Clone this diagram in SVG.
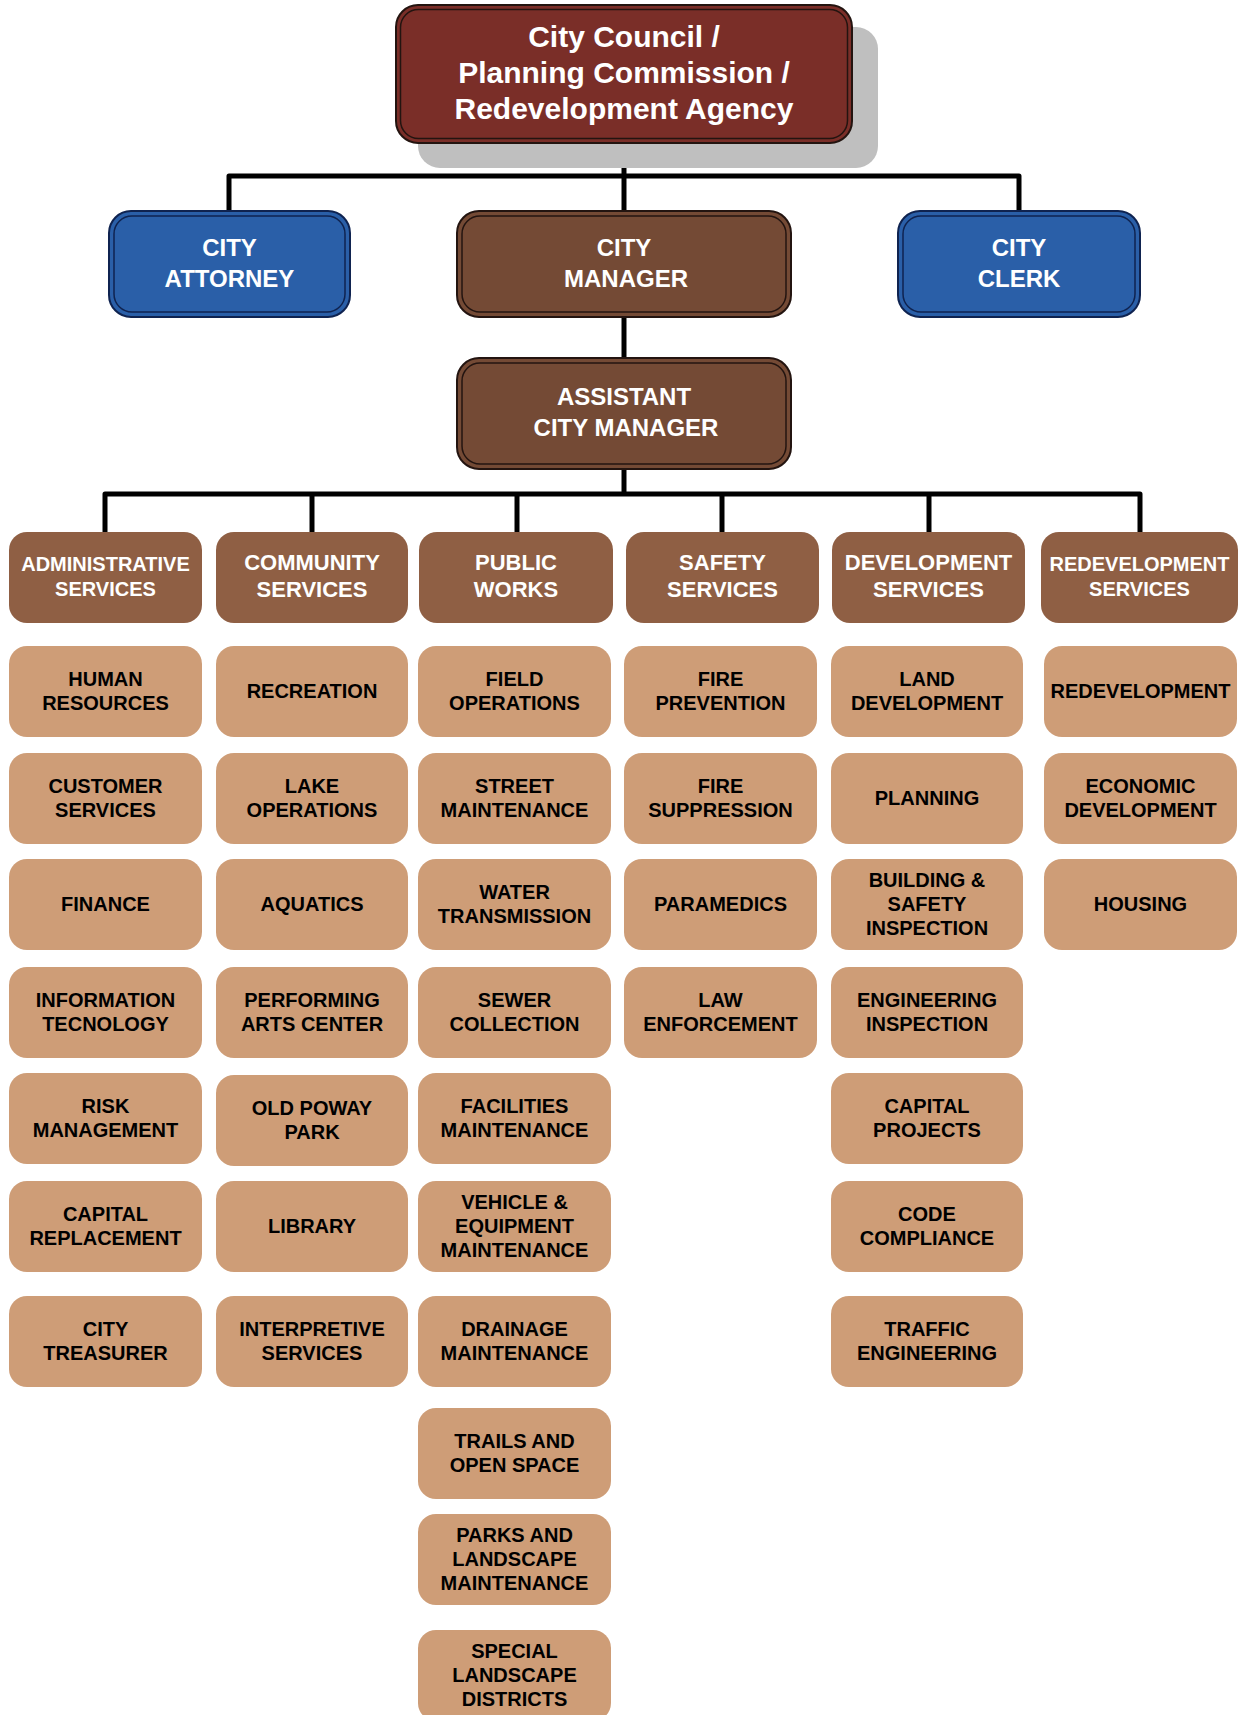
<svg xmlns="http://www.w3.org/2000/svg" width="1244" height="1715" viewBox="0 0 1244 1715">
<style>
.conn{stroke:#000;stroke-width:5;fill:none;stroke-linejoin:round}
.shadow{fill:#BFBFBF}
.outer{stroke:#231410;stroke-width:2}
.inner{fill:none;stroke:#231410;stroke-width:1.5}
.council{fill:#7A2E28}
.mgr{fill:#744A35}
.blue{fill:#2A5FA8}
.blue-o{stroke:#0F2350;stroke-width:2}
.blue-i{fill:none;stroke:#0F2350;stroke-width:1.5}
.dept{fill:#8F5F44}
.unit{fill:#CE9D77}
text{font-family:"Liberation Sans",Arial,sans-serif;font-weight:bold;text-anchor:middle}
.tw{fill:#fff}
.t30{font-size:30px}
.t24{font-size:24px}
.t22{font-size:22px}
.t20{font-size:20px}
.tb{fill:#000;font-size:20px}
</style>

<g id="connectors">
<path class="conn" d="M624 143 V211"/>
<path class="conn" d="M229 211 V176 H1019 V211"/>
<path class="conn" d="M624 317 V358"/>
<path class="conn" d="M624 469 V494"/>
<path class="conn" d="M105 532 V494 H1140 V532"/>
<path class="conn" d="M312 494 V532"/>
<path class="conn" d="M517 494 V532"/>
<path class="conn" d="M722 494 V532"/>
<path class="conn" d="M929 494 V532"/>
</g>

<g id="council">
<rect class="shadow" x="418" y="27" width="460" height="141" rx="22"/>
<rect class="council outer" x="396" y="5" width="456" height="138" rx="22"/>
<rect class="inner" x="400.5" y="9.5" width="447" height="129" rx="18"/>
<text class="tw t30" x="624" y="47">City Council /</text>
<text class="tw t30" x="624" y="83">Planning Commission /</text>
<text class="tw t30" x="624" y="119">Redevelopment Agency</text>
</g>

<g id="city-attorney">
<rect class="blue blue-o" x="109" y="211" width="241" height="106" rx="22"/>
<rect class="blue-i" x="114" y="216" width="231" height="96" rx="18"/>
<text class="tw t24" x="229.5" y="256">CITY</text>
<text class="tw t24" x="229.5" y="287">ATTORNEY</text>
</g>

<g id="city-manager">
<rect class="mgr outer" x="457" y="211" width="334" height="106" rx="22"/>
<rect class="inner" x="462" y="216" width="324" height="96" rx="18"/>
<text class="tw t24" x="624" y="256">CITY</text>
<text class="tw t24" x="626" y="287">MANAGER</text>
</g>

<g id="city-clerk">
<rect class="blue blue-o" x="898" y="211" width="242" height="106" rx="22"/>
<rect class="blue-i" x="903" y="216" width="232" height="96" rx="18"/>
<text class="tw t24" x="1019" y="256">CITY</text>
<text class="tw t24" x="1019" y="287">CLERK</text>
</g>

<g id="assistant-city-manager">
<rect class="mgr outer" x="457" y="358" width="334" height="111" rx="22"/>
<rect class="inner" x="462" y="363" width="324" height="101" rx="18"/>
<text class="tw t24" x="624" y="405">ASSISTANT</text>
<text class="tw t24" x="626" y="436">CITY MANAGER</text>
</g>

<g id="dept-administrative">
<rect class="dept" x="9" y="532" width="193" height="91" rx="18"/>
<text class="tw t20" x="105.5" y="571">ADMINISTRATIVE</text>
<text class="tw t20" x="105.5" y="596">SERVICES</text>
</g>
<g id="dept-community">
<rect class="dept" x="216" y="532" width="192" height="91" rx="18"/>
<text class="tw t22" x="312" y="569.5">COMMUNITY</text>
<text class="tw t22" x="312" y="597">SERVICES</text>
</g>
<g id="dept-public-works">
<rect class="dept" x="419" y="532" width="194" height="91" rx="18"/>
<text class="tw t22" x="516" y="569.5">PUBLIC</text>
<text class="tw t22" x="516" y="597">WORKS</text>
</g>
<g id="dept-safety">
<rect class="dept" x="626" y="532" width="193" height="91" rx="18"/>
<text class="tw t22" x="722.5" y="569.5">SAFETY</text>
<text class="tw t22" x="722.5" y="597">SERVICES</text>
</g>
<g id="dept-development">
<rect class="dept" x="832" y="532" width="193" height="91" rx="18"/>
<text class="tw t22" x="928.5" y="569.5">DEVELOPMENT</text>
<text class="tw t22" x="928.5" y="597">SERVICES</text>
</g>
<g id="dept-redevelopment">
<rect class="dept" x="1041" y="532" width="197" height="91" rx="18"/>
<text class="tw t20" x="1139.5" y="571">REDEVELOPMENT</text>
<text class="tw t20" x="1139.5" y="596">SERVICES</text>
</g>

<!-- Column 1 -->
<g id="human-resources"><rect class="unit" x="9" y="646" width="193" height="91" rx="18"/><text class="tb" x="105.5" y="686">HUMAN</text><text class="tb" x="105.5" y="710">RESOURCES</text></g>
<g id="customer-services"><rect class="unit" x="9" y="753" width="193" height="91" rx="18"/><text class="tb" x="105.5" y="793">CUSTOMER</text><text class="tb" x="105.5" y="817">SERVICES</text></g>
<g id="finance"><rect class="unit" x="9" y="859" width="193" height="91" rx="18"/><text class="tb" x="105.5" y="911">FINANCE</text></g>
<g id="information-technology"><rect class="unit" x="9" y="967" width="193" height="91" rx="18"/><text class="tb" x="105.5" y="1007">INFORMATION</text><text class="tb" x="105.5" y="1031">TECNOLOGY</text></g>
<g id="risk-management"><rect class="unit" x="9" y="1073" width="193" height="91" rx="18"/><text class="tb" x="105.5" y="1113">RISK</text><text class="tb" x="105.5" y="1137">MANAGEMENT</text></g>
<g id="capital-replacement"><rect class="unit" x="9" y="1181" width="193" height="91" rx="18"/><text class="tb" x="105.5" y="1221">CAPITAL</text><text class="tb" x="105.5" y="1245">REPLACEMENT</text></g>
<g id="city-treasurer"><rect class="unit" x="9" y="1296" width="193" height="91" rx="18"/><text class="tb" x="105.5" y="1336">CITY</text><text class="tb" x="105.5" y="1360">TREASURER</text></g>

<!-- Column 2 -->
<g id="recreation"><rect class="unit" x="216" y="646" width="192" height="91" rx="18"/><text class="tb" x="312" y="698">RECREATION</text></g>
<g id="lake-operations"><rect class="unit" x="216" y="753" width="192" height="91" rx="18"/><text class="tb" x="312" y="793">LAKE</text><text class="tb" x="312" y="817">OPERATIONS</text></g>
<g id="aquatics"><rect class="unit" x="216" y="859" width="192" height="91" rx="18"/><text class="tb" x="312" y="911">AQUATICS</text></g>
<g id="performing-arts-center"><rect class="unit" x="216" y="967" width="192" height="91" rx="18"/><text class="tb" x="312" y="1007">PERFORMING</text><text class="tb" x="312" y="1031">ARTS CENTER</text></g>
<g id="old-poway-park"><rect class="unit" x="216" y="1075" width="192" height="91" rx="18"/><text class="tb" x="312" y="1115">OLD POWAY</text><text class="tb" x="312" y="1139">PARK</text></g>
<g id="library"><rect class="unit" x="216" y="1181" width="192" height="91" rx="18"/><text class="tb" x="312" y="1233">LIBRARY</text></g>
<g id="interpretive-services"><rect class="unit" x="216" y="1296" width="192" height="91" rx="18"/><text class="tb" x="312" y="1336">INTERPRETIVE</text><text class="tb" x="312" y="1360">SERVICES</text></g>

<!-- Column 3 -->
<g id="field-operations"><rect class="unit" x="418" y="646" width="193" height="91" rx="18"/><text class="tb" x="514.5" y="686">FIELD</text><text class="tb" x="514.5" y="710">OPERATIONS</text></g>
<g id="street-maintenance"><rect class="unit" x="418" y="753" width="193" height="91" rx="18"/><text class="tb" x="514.5" y="793">STREET</text><text class="tb" x="514.5" y="817">MAINTENANCE</text></g>
<g id="water-transmission"><rect class="unit" x="418" y="859" width="193" height="91" rx="18"/><text class="tb" x="514.5" y="899">WATER</text><text class="tb" x="514.5" y="923">TRANSMISSION</text></g>
<g id="sewer-collection"><rect class="unit" x="418" y="967" width="193" height="91" rx="18"/><text class="tb" x="514.5" y="1007">SEWER</text><text class="tb" x="514.5" y="1031">COLLECTION</text></g>
<g id="facilities-maintenance"><rect class="unit" x="418" y="1073" width="193" height="91" rx="18"/><text class="tb" x="514.5" y="1113">FACILITIES</text><text class="tb" x="514.5" y="1137">MAINTENANCE</text></g>
<g id="vehicle-equipment-maintenance"><rect class="unit" x="418" y="1181" width="193" height="91" rx="18"/><text class="tb" x="514.5" y="1209">VEHICLE &amp;</text><text class="tb" x="514.5" y="1233">EQUIPMENT</text><text class="tb" x="514.5" y="1257">MAINTENANCE</text></g>
<g id="drainage-maintenance"><rect class="unit" x="418" y="1296" width="193" height="91" rx="18"/><text class="tb" x="514.5" y="1336">DRAINAGE</text><text class="tb" x="514.5" y="1360">MAINTENANCE</text></g>
<g id="trails-open-space"><rect class="unit" x="418" y="1408" width="193" height="91" rx="18"/><text class="tb" x="514.5" y="1448">TRAILS AND</text><text class="tb" x="514.5" y="1472">OPEN SPACE</text></g>
<g id="parks-landscape-maintenance"><rect class="unit" x="418" y="1514" width="193" height="91" rx="18"/><text class="tb" x="514.5" y="1542">PARKS AND</text><text class="tb" x="514.5" y="1566">LANDSCAPE</text><text class="tb" x="514.5" y="1590">MAINTENANCE</text></g>
<g id="special-landscape-districts"><rect class="unit" x="418" y="1630" width="193" height="91" rx="18"/><text class="tb" x="514.5" y="1658">SPECIAL</text><text class="tb" x="514.5" y="1682">LANDSCAPE</text><text class="tb" x="514.5" y="1706">DISTRICTS</text></g>

<!-- Column 4 -->
<g id="fire-prevention"><rect class="unit" x="624" y="646" width="193" height="91" rx="18"/><text class="tb" x="720.5" y="686">FIRE</text><text class="tb" x="720.5" y="710">PREVENTION</text></g>
<g id="fire-suppression"><rect class="unit" x="624" y="753" width="193" height="91" rx="18"/><text class="tb" x="720.5" y="793">FIRE</text><text class="tb" x="720.5" y="817">SUPPRESSION</text></g>
<g id="paramedics"><rect class="unit" x="624" y="859" width="193" height="91" rx="18"/><text class="tb" x="720.5" y="911">PARAMEDICS</text></g>
<g id="law-enforcement"><rect class="unit" x="624" y="967" width="193" height="91" rx="18"/><text class="tb" x="720.5" y="1007">LAW</text><text class="tb" x="720.5" y="1031">ENFORCEMENT</text></g>

<!-- Column 5 -->
<g id="land-development"><rect class="unit" x="831" y="646" width="192" height="91" rx="18"/><text class="tb" x="927" y="686">LAND</text><text class="tb" x="927" y="710">DEVELOPMENT</text></g>
<g id="planning"><rect class="unit" x="831" y="753" width="192" height="91" rx="18"/><text class="tb" x="927" y="805">PLANNING</text></g>
<g id="building-safety-inspection"><rect class="unit" x="831" y="859" width="192" height="91" rx="18"/><text class="tb" x="927" y="887">BUILDING &amp;</text><text class="tb" x="927" y="911">SAFETY</text><text class="tb" x="927" y="935">INSPECTION</text></g>
<g id="engineering-inspection"><rect class="unit" x="831" y="967" width="192" height="91" rx="18"/><text class="tb" x="927" y="1007">ENGINEERING</text><text class="tb" x="927" y="1031">INSPECTION</text></g>
<g id="capital-projects"><rect class="unit" x="831" y="1073" width="192" height="91" rx="18"/><text class="tb" x="927" y="1113">CAPITAL</text><text class="tb" x="927" y="1137">PROJECTS</text></g>
<g id="code-compliance"><rect class="unit" x="831" y="1181" width="192" height="91" rx="18"/><text class="tb" x="927" y="1221">CODE</text><text class="tb" x="927" y="1245">COMPLIANCE</text></g>
<g id="traffic-engineering"><rect class="unit" x="831" y="1296" width="192" height="91" rx="18"/><text class="tb" x="927" y="1336">TRAFFIC</text><text class="tb" x="927" y="1360">ENGINEERING</text></g>

<!-- Column 6 -->
<g id="redevelopment"><rect class="unit" x="1044" y="646" width="193" height="91" rx="18"/><text class="tb" x="1140.5" y="698">REDEVELOPMENT</text></g>
<g id="economic-development"><rect class="unit" x="1044" y="753" width="193" height="91" rx="18"/><text class="tb" x="1140.5" y="793">ECONOMIC</text><text class="tb" x="1140.5" y="817">DEVELOPMENT</text></g>
<g id="housing"><rect class="unit" x="1044" y="859" width="193" height="91" rx="18"/><text class="tb" x="1140.5" y="911">HOUSING</text></g>
</svg>
